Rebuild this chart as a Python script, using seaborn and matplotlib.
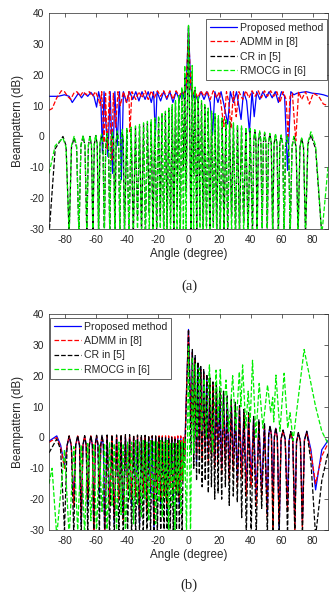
import matplotlib
matplotlib.use("Agg")
import matplotlib.pyplot as plt
import seaborn as sns
import pandas as pd

# ---------------- data: panel (a) ----------------
# shared angle grid for CR / RMOCG in (a): nulls, lobe shoulders and lobe peaks
ang_side_a = [-90, -86, -81, -79, -77,
              -75.5, -73.8, -72.2, -70.7,
              -69.4, -68, -66.8, -65.6,
              -64.6, -63.6, -62.6, -61.7,
              -60.8, -59.8, -58.9, -58,
              -57.1, -56.1, -55.2, -54.3,
              -53.4, -52.5, -51.6, -50.8,
              -50, -49.1, -48.3, -47.5,
              -46.7, -45.9, -45.1, -44.3,
              -43.5, -42.8, -42.1, -41.3,
              -39.8, -38.4, -37, -35.6, -34.2, -32.9, -31.6, -30.3, -29, -27.8,
              -26.5, -25.3, -24.1, -22.9, -21.7, -20.5, -19.3, -18.2, -17.1, -16,
              -14.9, -13.8, -12.7, -11.6, -10.5, -9.5, -8.4, -7.4, -6.3, -5.3,
              -4.3, -3.3, -2.4, -1.6, 0,
              1.6, 2.4, 3.3, 4.3, 5.3, 6.3, 7.4, 8.4, 9.5, 10.5,
              11.6, 12.7, 13.8, 14.9, 16, 17.1, 18.2, 19.3, 20.5, 21.7,
              22.9, 24.1, 25.3, 26.5, 27.8, 29, 30.3, 31.6, 32.9, 34.2,
              35.6, 37, 38.4, 39.8,
              41.3,
              42.1, 42.8, 43.5, 44.3,
              45.1, 45.9, 46.7, 47.5,
              48.3, 49.1, 50, 50.8,
              51.6, 52.5, 53.4, 54.3,
              55.2, 56.1, 57.1, 58,
              58.9, 59.8, 60.8, 61.7,
              62.6, 63.6, 64.6, 65.6,
              66.8, 68, 69.4, 70.7,
              71.9, 73, 74.2, 75.5,
              77, 79, 82, 86,
              90]
cr_a = [-32, -4, 0, -3, -32,
        -3.5, -0.5, -3.5, -32,
        -3, 0, -3, -32,
        -3, 0, -3, -32,
        -2.7, 0.3, -2.7, -32,
        -2.5, 0.5, -2.5, -32,
        -2.3, 0.7, -2.3, -32,
        -2, 1, -2, -32,
        -1.7, 1.3, -1.7, -32,
        -1.4, 1.6, -1.4, -32,
        2, -32, 2.4, -32, 2.8, -27, 3.3, -32, 3.8, -32,
        4.3, -25, 4.8, -32, 5.4, -32, 6, -26, 6.8, -32,
        7.6, -30, 8.5, -28, 9.6, -32, 11, -24, 12.5, -32,
        15, -10, 20, -18, 36,
        -32, 21, -12, 15, -32, 12.5, -26, 11, -32, 9.6,
        -29, 8.5, -32, 7.6, -28, 6.8, -32, 6, -30, 5.4,
        -32, 4.8, -32, 4.3, -26, 3.8, -32, 3.3, -32, 2.8,
        -28, 2.4, -32, 2,
        -32,
        -1.4, 1.6, -1.4, -32,
        -1.7, 1.3, -1.7, -32,
        -2, 1, -2, -32,
        -2.3, 0.7, -2.3, -32,
        -2.5, 0.5, -2.5, -32,
        -2.7, 0.3, -2.7, -32,
        -3, 0, -3, -32,
        -3.3, -0.3, -3.3, -32,
        -3.5, -0.5, -3.5, -32,
        -2.5, 0.5, -4, -32,
        -32]
rmocg_a = [-12, -3, -0.5, -3.5, -32,
           -3, 0, -3, -32,
           -2.7, 0.3, -2.7, -32,
           -2.8, 0.2, -2.8, -32,
           -2.5, 0.5, -2.5, -32,
           -2.2, 0.8, -2.2, -32,
           -2, 1, -2, -32,
           -1.6, 1.4, -1.6, -32,
           -1.2, 1.8, -1.2, -32,
           -0.8, 2.2, -0.8, -32,
           2.6, -32, 3, -32, 3.4, -32, 3.9, -32, 4.4, -32,
           4.9, -32, 5.4, -32, 6, -32, 6.7, -32, 7.4, -32,
           8.2, -32, 9.2, -32, 10.3, -32, 11.6, -32, 13.2, -32,
           16, -32, 23, -32, 36,
           -32, 23, -32, 16, -32, 13.2, -32, 11.6, -32, 10.3,
           -32, 9.2, -32, 8.2, -32, 7.4, -32, 6.7, -32, 6,
           -32, 5.4, -32, 4.9, -32, 4.4, -32, 3.9, -32, 3.4,
           -32, 3, -32, 2.6,
           -32,
           -0.8, 2.2, -0.8, -32,
           -1.2, 1.8, -1.2, -32,
           -1.6, 1.4, -1.6, -32,
           -2, 1, -2, -32,
           -2.2, 0.8, -2.2, -32,
           -2.5, 0.5, -2.5, -32,
           -2.8, 0.2, -2.8, -32,
           -3, 0, -3, -32,
           -3.5, -0.5, -3.5, -32,
           -2, 1.5, -3, -32,
           -10]

ang_prop_a = [-90, -84, -80, -77, -75, -73, -71, -69, -67, -65, -63, -61, -59.3, -58, -56.5, -55.5,
              -54.5, -52, -50.5, -49, -47.5, -46, -44.5, -43.3, -42, -40, -38, -36, -34, -32, -30,
              -28, -26, -24, -22.5, -21.4, -20.3, -18, -16, -14, -12, -10, -8, -6, -4, -2.5, -1.5,
              0, 1.5, 2.5, 4, 6, 8, 10, 12, 14, 15.5, 17, 19, 21, 23, 25.3, 27, 29, 31, 33.9,
              35.5, 37.5, 39.3, 41, 42.4, 44, 46, 48, 50, 52, 54, 56, 58, 60, 62, 63.9, 66, 68,
              70, 73, 76, 80, 84, 87, 90]
prop_a = [13, 13, 13.5, 13, 11, 12.5, 14, 12.5, 14, 13, 14.3, 13, 9.5, 14.5, 11, -5.5,
          14.5, -6.5, 14.5, -12, 14.5, -3, 14.5, -14, 14.5, 11, 14.5, 12, 14.5, 11.5, 14.5,
          12, 14.5, 11, 14.5, 0, 14.5, 11.5, 14.5, 12, 14.5, 11, 14.5, 12, 14.5, 12, 16,
          35, 16, 12, 14.5, 11.5, 14.5, 12, 14.5, 11, 0.5, 14.5, 11, 14.5, 10, 4, 14.5, 11, 14.5, 5.5,
          14.5, 11.5, 1.5, 14.5, 6.4, 14.5, 12, 14.5, 12.5, 14.5, 12.5, 14.5, 11, 14.5, 13, -11, 14.5, 13.5,
          14, 14.3, 14.5, 14, 13.8, 13.5, 13]

ang_admm_a = [-90, -88, -85, -82, -80, -78, -76, -74, -72, -70, -68, -66, -64, -62, -60, -58, -57,
              -56, -54.5, -53.5, -52.5, -51, -49.5, -48.5, -47, -45.5, -44, -42, -40, -38.5, -37.8,
              -36.5, -34, -32, -30, -28, -26, -24, -22, -20, -18, -16, -14, -12, -10, -8, -6, -4,
              -2.5, -1.5, 0, 1.5, 2.5, 4, 6, 8, 10, 12, 14, 16, 18, 20, 22.8, 24.5, 26, 27.4, 29,
              30.8, 32.5, 35, 37, 39, 41, 43, 45, 47, 49, 51, 53, 55, 57, 59, 61, 63, 64.2, 65.5,
              67, 69.2, 71, 73, 75.5, 78, 80.5, 84, 87, 90]
admm_a = [8.5, 9, 12.5, 14.8, 14.5, 13, 12, 14, 14.5, 13, 14.5, 13.5, 14.5, 13, 14.5, 12, 10,
          14.5, -2, 14, -4, 14.5, -8, 14, 3, 14.5, 10, 14.5, 11, 14.5, 1.5,
          14.5, 12, 14.5, 12.5, 14.8, 12, 14.8, 12.5, 14.8, 13, 14.8, 12.5, 14.8, 12, 14.8, 13, 14.8,
          13, 16, 34, 16, 13, 14.8, 12.5, 14.8, 13, 14.8, 12, 14.8, 12.5, 14.5, 3.2, 14.5, 11, 2.6, 14.5,
          6.4, 14.5, 12, 14.8, 12.5, 14.8, 13, 14.8, 12.5, 14.8, 13, 14.8, 13, 14.5, 11, 14.5, 12, 0, 13,
          14, -1.5, 14.5, 12, 14.5, 10.5, 14, 13, 10.5, 10]

# ---------------- data: panel (b) ----------------
ang_b = [-90, -85, -82.5, -80, -78.3, -77, -75.6, -74, -72.8, -71.5, -70.3, -69.2, -68.1, -67,
         -66, -65, -64, -63, -62, -61.1, -60.2, -59.3, -58.4, -57.5, -56.6, -55.8, -54.9, -54.1,
         -52.5, -50.9, -49.4, -47.9, -46.4, -44.9, -43.5, -42.1, -40.7, -39.3, -38, -36.7, -35.4,
         -34.1, -32.9, -31.6, -30.4, -29.2, -28, -26.8, -25.7, -24.5, -23.4, -22.3, -21.2, -20.1,
         -19, -17.9, -16.9, -15.8, -14.8, -13.8, -12.8, -11.8, -10.8, -9.8, -8.8, -7.8, -6.9, -5.9,
         -5, -4.1, -3.3, -2.5, -1.5, 0,
         1.7, 2.5, 3.4, 4.3, 5.2, 6.1, 7, 7.9, 8.8, 9.8, 10.8, 11.8, 12.8, 13.8, 14.8, 15.8, 16.9,
         18, 19.1, 20.2, 21.4, 22.6, 23.8, 25, 26.3, 27.6, 28.9, 30.2, 31.5, 32.9, 34.3, 35.8,
         37.3, 38.8, 40.4, 42, 43.7, 45.4, 47.2, 49,
         50.9, 51.7, 52.6, 53.5, 54.5, 55.4, 56.3, 57.3, 58.5, 59.7, 61, 62.4, 63.9, 64.9, 66,
         67.3, 68.6, 69.7, 70.9, 72.2, 73.5, 74.8, 76.3, 79, 82, 86, 90]
prop_b = [-1.2, 0.5, -2.5, -9, -2.5, 0.3, -3, -20, -2.7, 0.3, -2.7, -28, -2.7, 0.3,
          -2.7, -22, -2.7, 0.3, -2.7, -30, -2.7, 0.3, -2.7, -18, -2.7, 0.3, -2.7, -32,
          0.3, -20, 0.2, -28, 0.2, -18, 0, -25, 0, -15, 0, -22, 0,
          -17, 0, -28, 0, -16, 0, -22, 0, -18, 0, -30, 0, -15,
          0, -22, 0, -17, 0, -25, 0, -14, 0, -20, 0, -15, 0, -22,
          0, -12, -0.5, -6, 12, 35,
          5, 28, 0, 26, -8, 24, -2, 22.5, -5, 21.5, -3, 20, -6, 18.8, -4, 17.5, -8,
          16.3, -6, 15.2, -10, 14, -7, 12.8, -12, 11.7, -9, 10.6, -14, 9.5, -11, 8.4,
          -17, 7.3, -14, 6.2, -20, 5.2, -17, 4.3,
          -24, 0.8, 3.6, 0.8, -20, 0.2, 3, 0.2, -30, -0.5, 2.3, -0.5, -22, -1, 1.8,
          -1, -28, -1.3, 1.5, -1.3, -27, -0.8, 2, -4, -17, -4, -1]
admm_b = [-1.6, 0, -3, -10, -2.5, 0.5, -2.5, -22, -2.5, 0.5, -2.5, -26, -2.5, 0.5,
          -2.5, -20, -2.5, 0.5, -2.5, -32, -2.5, 0.5, -2.5, -16, -2.5, 0.5, -2.5, -30,
          0.5, -22, 0.5, -26, 0.5, -20, 0.5, -28, 0.5, -17, 0.5, -20, 0.5,
          -19, 0.5, -26, 0.5, -18, 0.5, -24, 0.5, -16, 0.5, -28, 0.5, -17,
          0.5, -20, 0.5, -19, 0.5, -23, 0.5, -16, 0.5, -18, 0.5, -17, 0.5, -20,
          0.5, -14, 0, -7, 12, 34.5,
          3, 27.5, -2, 25.5, -6, 23.5, -4, 22, -7, 21, -5, 19.5, -8, 18.3, -6, 17, -10,
          16, -8, 15, -12, 13.8, -9, 12.6, -14, 11.5, -11, 10.4, -16, 9.3, -13, 8.2,
          -19, 7.1, -16, 6, -22, 5, -19, 4.1,
          -26, 0.6, 3.4, 0.6, -32, 0, 2.8, 0, -28, -0.7, 2.1, -0.7, -24, -1.2, 1.6,
          -1.2, -30, -1.5, 1.3, -1.5, -29, -1, 1.7, -5, -15, -6, -2]
cr_b = [-5, -0.5, -4, -30, -2.5, 0.5, -2.5, -32, -2.4, 0.6, -2.4, -32, -2.4, 0.6,
        -2.4, -32, -2.4, 0.6, -2.4, -32, -2.3, 0.7, -2.3, -32, -2.3, 0.7, -2.3, -32,
        0.8, -32, 0.8, -32, 0.8, -32, 0.9, -32, 0.9, -32, 0.9, -32, 0.8,
        -32, 0.8, -32, 0.8, -32, 0.7, -32, 0.6, -32, 0.5, -32, 0.5, -32,
        0.4, -32, 0.3, -32, 0.2, -32, 0, -32, 0, -32, -0.5, -32, -1, -32,
        -1.5, -32, -2, -10, 10, 35,
        -5, 28.5, -10, 26.5, -14, 24.5, -12, 23, -16, 22, -14, 20.5, -18, 19.3, -16, 18, -20,
        17, -18, 16, -20, 15, -16, 13.8, -22, 12.6, -19, 11.4, -21, 10.3, -26, 9.1,
        -32, 8, -32, 6.8, -32, 5.7, -23, 4.7,
        -32, 0.8, 3.8, 0.8, -32, 0.1, 3.1, 0.1, -32, -0.6, 2.4, -0.6, -32, -1.1, 1.9,
        -1.1, -32, -1.4, 1.6, -1.4, -32, -1, 2, -8, -32, -14, -5]

ang_rmocg_b = [-90, -88, -85, -80, -77, -74, -71.5, -69.2, -67, -65, -63, -61.1, -59.3, -57.5,
               -55.8, -54.1, -52.5, -50.9, -49.4, -47.9, -46.4, -44.9, -43.5, -42.1, -40.7, -39.3,
               -38, -36.7, -35.4, -34.1, -32.9, -31.6, -30.4, -29.2, -28, -26.8, -25.7, -24.5,
               -23.4, -22.3, -21.2, -20.1, -19, -17.9, -16.9, -15.8, -14.8, -13.8, -12.8, -11.8,
               -10.8, -9.8, -8.8, -7.8, -6.9, -5.9, -5, -4.1, -3.3, -2.5, -1.3, 0,
               1.3, 2.5, 3.4, 4.5, 5.5, 7, 8.5, 10, 11.5, 13.5, 15.5, 17.8, 19.2, 20.5, 22, 24.2,
               26, 28.5, 30.5, 32.8, 33.8, 34.9, 37, 38.5, 39.8, 41.3, 43.5, 45.6, 48, 51, 53,
               54.3, 55, 56.4, 59, 61.7, 64, 65.5, 67.5, 74.6, 82, 86, 90]
rmocg_b = [-15, -10, -32, -4, -32, -3, -30, -2.5, -32, -2, -27, -2, -32, -2.5,
           -24, -2, -32, -1.5, -22, -2, -30, -1.5, -25, -2, -32, -1.5,
           -20, -1.5, -28, -1, -22, -1.5, -26, -1, -20, -1.5, -27, -1,
           -20, -1, -28, -1.5, -21, -1, -26, -1.5, -20, -1, -32, -2,
           -22, -1.5, -30, -2, -18, -1, -25, -1, -14, -0.5, -32, 30,
           -32, 26, -5, 24, 0, 22.5, 2, 19, 0, 23.5, -5, 21.8, 5, 22, 3, 18.6,
           2, 20, 2, 21.3, 10, 23.5, 3, 15, 5, 25, 0, 17.5, 3, 17, 8,
           13, 5, 20.2, 2, 20.8, 3, 8, -1, 28.5, 10, 2, -2]

legend_labels = ["Proposed method", "ADMM in [8]", "CR in [5]", "RMOCG in [6]"]
xticks = [-80, -60, -40, -20, 0, 20, 40, 60, 80]
yticks = [-30, -20, -10, 0, 10, 20, 30, 40]

# ---------------- styling ----------------
sns.set_style("white")
plt.rcParams["font.family"] = ["Liberation Sans", "DejaVu Sans"]
plt.rcParams["xtick.direction"] = "in"
plt.rcParams["ytick.direction"] = "in"

colors = ["#0000ff", "#ff0000", "#000000", "#00ee00"]
styles = ["-", "--", "--", "--"]

fig = plt.figure(figsize=(3.29, 5.95), dpi=100)
ax_a = fig.add_axes([49 / 329, 1 - 229 / 595, 279 / 329, 216 / 595])
ax_b = fig.add_axes([49 / 329, 1 - 530 / 595, 279 / 329, 216 / 595])

panel_a = [(ang_prop_a, prop_a), (ang_admm_a, admm_a), (ang_side_a, cr_a), (ang_side_a, rmocg_a)]
panel_b = [(ang_b, prop_b), (ang_b, admm_b), (ang_b, cr_b), (ang_rmocg_b, rmocg_b)]

for ax, panel, loc, anchor in [
        (ax_a, panel_a, "upper right", (0.997, 0.972)),
        (ax_b, panel_b, "upper left", (0.004, 0.982))]:
    for (xs, ys), lab, c, ls in zip(panel, legend_labels, colors, styles):
        df = pd.DataFrame({"Angle": xs, "dB": ys})
        kw = dict(dashes=(4.0, 2.2)) if ls == "--" else {}
        sns.lineplot(data=df, x="Angle", y="dB", ax=ax, color=c, linewidth=0.9,
                     linestyle=ls, label=lab, sort=False, estimator=None, **kw)
    ax.set_xlim(-90, 90)
    ax.set_ylim(-30, 40)
    ax.set_xticks(xticks)
    ax.set_yticks(yticks)
    ax.set_xticklabels([str(t) for t in xticks])
    ax.set_yticklabels([str(t) for t in yticks])
    ax.tick_params(axis="both", labelsize=7.4, length=3, width=0.5, top=True, right=True,
                   colors="#262626")
    ax.tick_params(axis="x", pad=4.5)
    ax.tick_params(axis="y", pad=3.5)
    for sp in ax.spines.values():
        sp.set_linewidth(0.5)
        sp.set_color("#262626")
    ax.set_xlabel("Angle (degree)", fontsize=8.4, labelpad=2)
    ax.set_ylabel("Beampattern (dB)", fontsize=8.4, labelpad=4)
    leg = ax.legend(loc=loc, bbox_to_anchor=anchor, fontsize=7.6, frameon=True, fancybox=False,
                    borderpad=0.35, labelspacing=0.42, handlelength=2.6, handletextpad=0.3,
                    borderaxespad=0.0)
    leg.get_frame().set_edgecolor("#262626")
    leg.get_frame().set_linewidth(0.5)
    leg.get_frame().set_alpha(1)

fig.text(189 / 329, 1 - 286 / 595, "(a)", ha="center", va="center", fontsize=10.5,
         family=["Liberation Serif", "DejaVu Serif"])
fig.text(189 / 329, 1 - 585 / 595, "(b)", ha="center", va="center", fontsize=10.5,
         family=["Liberation Serif", "DejaVu Serif"])

fig.savefig("out.png", dpi=100, facecolor="white")
